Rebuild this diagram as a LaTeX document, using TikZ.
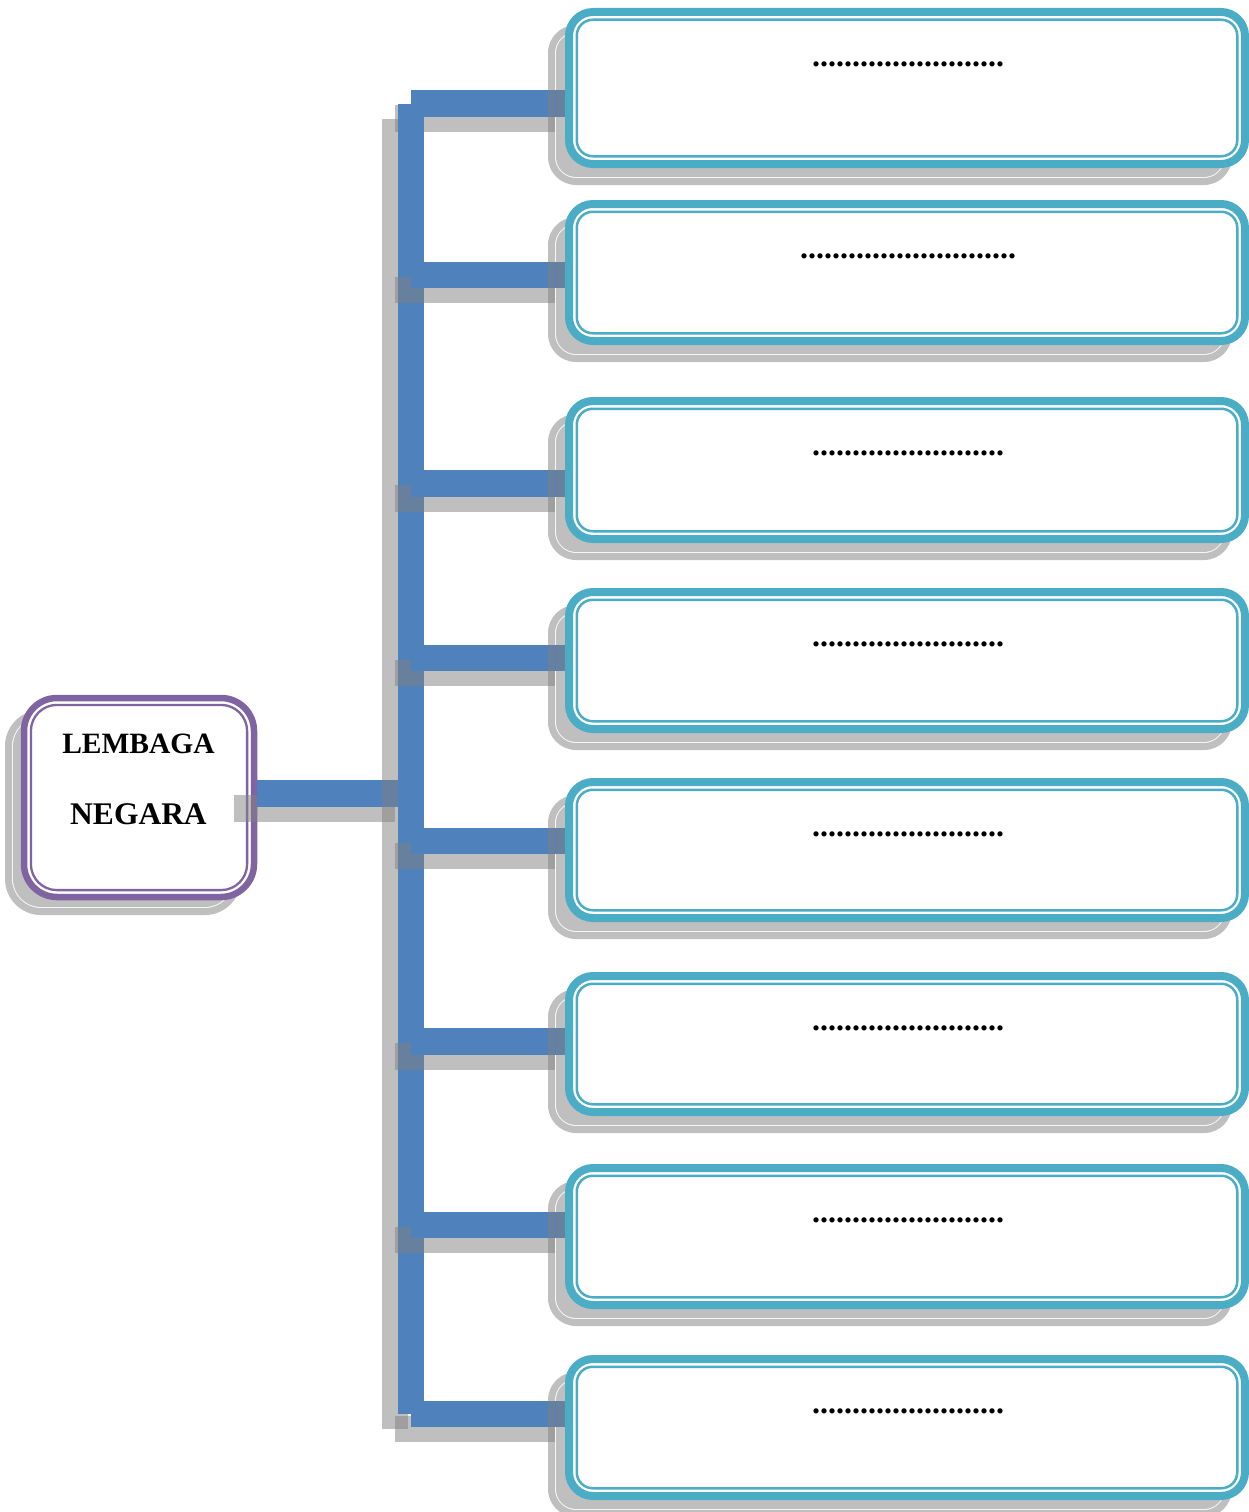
\documentclass[tikz,border=0pt]{standalone}
\usepackage{fontspec}
\setmainfont{Liberation Serif}
\definecolor{boxblue}{RGB}{75,172,198}
\definecolor{connblue}{RGB}{79,129,189}
\definecolor{lpurple}{RGB}{128,100,162}
\pgfdeclarelayer{conn}
\pgfdeclarelayer{shad}
\pgfdeclarelayer{toplayer}
\pgfsetlayers{conn,shad,main,toplayer}
\newcommand\mydots[1]{\foreach\k in {1,...,#1}{.}}
\tikzset{
  rbox/.style={draw=boxblue, line width=8pt, fill=white, rounded corners=24pt,
    inner sep=0pt, outer sep=0pt, minimum width=676pt},
  lboxst/.style={draw=lpurple, line width=6.5pt, fill=white, rounded corners=33pt,
    inner sep=0pt, outer sep=0pt, minimum width=230pt, minimum height=199pt},
  dotstxt/.style={font=\fontsize{32}{38}\selectfont\bfseries, inner sep=0pt, anchor=base},
  lbltxt/.style={font=\fontsize{29.5}{35}\selectfont\bfseries, inner sep=0pt, anchor=base},
  wire/.style={draw=connblue, line width=26.5pt, line cap=butt},
  wshadow/.style={draw=gray, draw opacity=0.5, line width=26.5pt, line cap=butt},
  sshadow/.style={fill=gray, fill opacity=0.5, even odd rule},
}
\begin{document}
\begin{tikzpicture}[x=1pt,y=-1pt]
\useasboundingbox (0,0) rectangle (1249,1512);

% ---- left box ----
\node[lboxst] (lbox) at (139,797.5) {};
\draw[lpurple, line width=2.3pt, rounded corners=26pt]
  ([shift={(6.9,6.9)}]lbox.north west) rectangle ([shift={(-6.9,-6.9)}]lbox.south east);
\node[lbltxt] (l1) at (138.5,753) {LEMBAGA};
\node[lbltxt, font=\fontsize{31.5}{36}\selectfont\bfseries] (l2) at (138.5,824) {NEGARA};
\begin{pgfonlayer}{shad}
  \fill[sshadow] [rounded corners=36pt]
    ([shift={(-19,12)}]lbox.north west) rectangle ([shift={(-13,18)}]lbox.south east)
    [rounded corners=29pt]
    ([shift={(-12,19)}]lbox.north west) rectangle ([shift={(-20,11)}]lbox.south east)
    [rounded corners=28pt]
    ([shift={(-11,20)}]lbox.north west) rectangle ([shift={(-21,10)}]lbox.south east);
\end{pgfonlayer}

% ---- right boxes ----
\foreach \ii/\tp/\bt/\yy/\nn in {1/8/168/103.5/24, 2/200/345/275/27, 3/397/543/483.5/24,
    4/588/733/658/24, 5/778/922/841/24, 6/972/1116/1041.5/24,
    7/1164/1309/1225/24, 8/1355/1500/1414/24}{
  \pgfmathsetmacro\hh{\bt-\tp-8}
  \pgfmathsetmacro\cc{(\tp+\bt)/2}
  \node[rbox, minimum height=\hh pt] (b\ii) at (907,\cc) {};
  \draw[boxblue, line width=2.5pt, rounded corners=16pt]
    ([shift={(7.75,7.75)}]b\ii.north west) rectangle ([shift={(-7.75,-7.75)}]b\ii.south east);
  \node[dotstxt] (d\ii) at (908,\tp+58.5) {\mydots{\nn}};
  \coordinate (s\ii) at (411,\yy);
  \coordinate (e\ii) at (b\ii.west |- s\ii);
  \begin{pgfonlayer}{shad}
    \fill[sshadow] [rounded corners=28pt]
      ([shift={(-21,13)}]b\ii.north west) rectangle ([shift={(-13,21)}]b\ii.south east)
      [rounded corners=21pt]
      ([shift={(-14,20)}]b\ii.north west) rectangle ([shift={(-20,14)}]b\ii.south east)
      [rounded corners=20pt]
      ([shift={(-13,21)}]b\ii.north west) rectangle ([shift={(-21,13)}]b\ii.south east);
  \end{pgfonlayer}
}

% ---- connectors ----
\coordinate (jn) at (411,793.5);
\coordinate (ls) at ([shift={(3.25,-4)}]lbox.east);
\begin{pgfonlayer}{conn}
  \draw[wshadow] ([shift={(-16,15)}]s1) -- ([shift={(-14,15)}]e1);
  \draw[wshadow] ([shift={(-16,15)}]s1) -- ([shift={(-16,15)}]s8);
  \draw[wire] (s1) -- (s8);
  \foreach \ii in {2,...,8}{
    \draw[wshadow] ([shift={(-16,15)}]s\ii) -- ([shift={(-14,15)}]e\ii);
  }
  \foreach \ii in {1,...,8}{
    \draw[wire] (s\ii) -- ([xshift=2pt]e\ii);
  }
\end{pgfonlayer}
\begin{pgfonlayer}{toplayer}
  \draw[wshadow] ([shift={(-23,15)}]ls) -- ([shift={(-16,15)}]jn);
  \draw[wire] (ls) -- (jn);
  % spine shadow passing over the left connector
  \fill[gray, fill opacity=0.5] ([shift={(-29,-13.25)}]jn) rectangle ([shift={(-13,13.25)}]jn);
\end{pgfonlayer}
\end{tikzpicture}
\end{document}
